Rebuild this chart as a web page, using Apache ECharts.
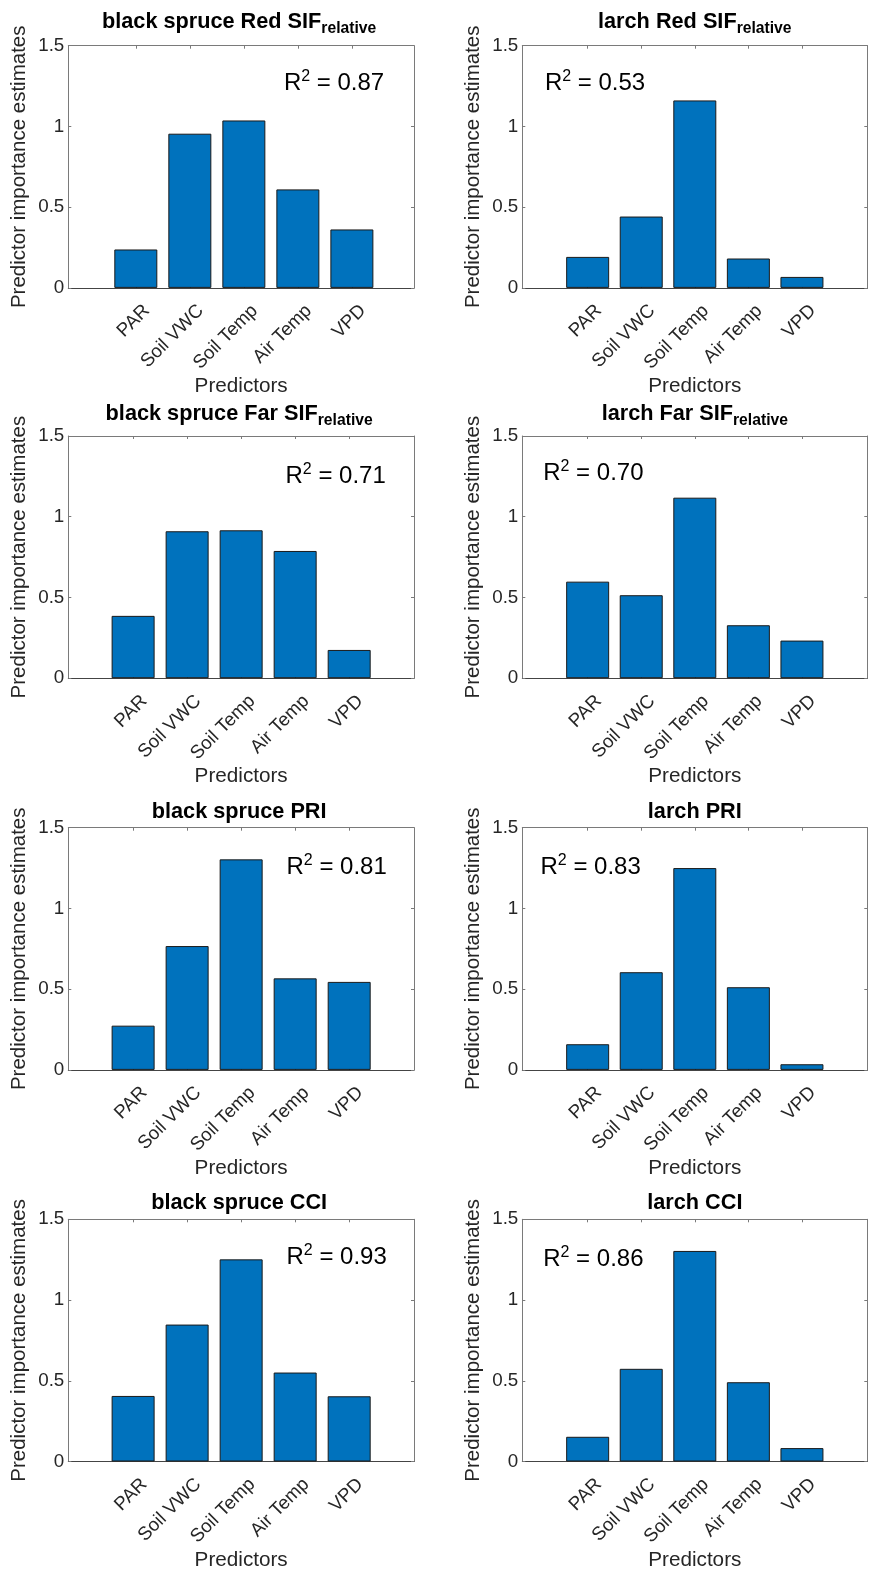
<!DOCTYPE html>
<html>
<head>
<meta charset="utf-8">
<script src="https://cdn.jsdelivr.net/npm/echarts@6/dist/echarts.min.js"></script>
<style>
  html, body { margin: 0; padding: 0; background: #ffffff; }
  #chart { width: 869px; height: 1579px; }
</style>
</head>
<body>
<div id="chart"></div>
<script>
// Predictor importance estimates for each vegetation index model
const predictors = ['PAR', 'Soil VWC', 'Soil Temp', 'Air Temp', 'VPD'];
const yTicks = [0, 0.5, 1, 1.5];

const spruceRedSIF = [0.238, 0.955, 1.037, 0.610, 0.362];
const larchRedSIF  = [0.192, 0.442, 1.161, 0.182, 0.068];
const spruceFarSIF = [0.386, 0.910, 0.916, 0.788, 0.175];
const larchFarSIF  = [0.598, 0.514, 1.118, 0.328, 0.233];
const sprucePRI    = [0.274, 0.767, 1.304, 0.567, 0.545];
const larchPRI     = [0.159, 0.605, 1.250, 0.512, 0.035];
const spruceCCI    = [0.406, 0.848, 1.252, 0.551, 0.404];
const larchCCI     = [0.153, 0.574, 1.304, 0.491, 0.083];

const titleMain = ['black spruce Red SIF', 'larch Red SIF', 'black spruce Far SIF', 'larch Far SIF',
                   'black spruce PRI', 'larch PRI', 'black spruce CCI', 'larch CCI'];
const titleSub  = ['relative', 'relative', 'relative', 'relative', '', '', '', ''];
const r2Values  = ['0.87', '0.53', '0.71', '0.70', '0.81', '0.83', '0.93', '0.86'];

const panelValues = [spruceRedSIF, larchRedSIF, spruceFarSIF, larchFarSIF,
                     sprucePRI, larchPRI, spruceCCI, larchCCI];

// ---- layout (pixels) ----
const colLeft = [68.3, 522.3];
const colWidth = [345.7, 345];
const titleShift = [-2, 0];
const rowTop = [45.7, 436, 827.7, 1219.3];
const rowHeight = 242.2;
const xRange = [[-0.25, 6.15], [-0.22, 6.22], [-0.2, 6.2], [-0.22, 6.22],
                [-0.2, 6.2], [-0.22, 6.22], [-0.2, 6.2], [-0.22, 6.22]];
const titleY = [22.1, 22.1, 413.8, 413.8, 812.1, 812.1, 1203.1, 1203.1];
const r2Pos = [[283.9, 83.8], [544.9, 83.8], [285.5, 476.1], [543.2, 473.8],
               [286.5, 867.1], [540.5, 867.1], [286.5, 1257.1], [543.2, 1259.4]];

const FONT = 'Liberation Sans, Arial, Helvetica, sans-serif';
const TEXT = '#262626';
const BOX = '#7a7a7a';
const BASE = '#444444';
const BAR = '#0072BD';
const tickPos = predictors.map((_, k) => k + 1);

const grids = [], xAxes = [], yAxes = [], series = [], graphics = [];

panelValues.forEach((vals, i) => {
  const col = i % 2, row = Math.floor(i / 2);
  grids.push({ left: colLeft[col], top: rowTop[row], width: colWidth[col], height: rowHeight,
               containLabel: false });

  // bottom axis: bar positions 1..5 labelled with predictor names
  xAxes.push({
    type: 'value', gridIndex: i, position: 'bottom',
    min: xRange[i][0], max: xRange[i][1],
    axisLine: { show: true, onZero: false, lineStyle: { color: BASE, width: 1 } },
    axisTick: { show: true, inside: true, length: 3, customValues: tickPos,
                lineStyle: { color: BASE, width: 1 } },
    axisLabel: {
      show: true, customValues: tickPos,
      formatter: v => predictors[Math.round(v) - 1],
      rotate: 45, margin: 9, align: 'right', verticalAlign: 'top', padding: [6, 0, 0, 0],
      fontSize: 18.8, color: TEXT, fontFamily: FONT
    },
    splitLine: { show: false },
    name: 'Predictors', nameLocation: 'middle', nameGap: 86,
    nameTextStyle: { fontSize: 20.7, color: TEXT, fontFamily: FONT }
  });
  // top mirror axis (ticks only)
  xAxes.push({
    type: 'value', gridIndex: i, position: 'top',
    min: xRange[i][0], max: xRange[i][1],
    axisLine: { show: true, onZero: false, lineStyle: { color: BOX, width: 1 } },
    axisTick: { show: true, inside: true, length: 3, customValues: tickPos,
                lineStyle: { color: BOX, width: 1 } },
    axisLabel: { show: false },
    splitLine: { show: false }
  });

  yAxes.push({
    type: 'value', gridIndex: i, position: 'left',
    min: 0, max: 1.5, interval: 0.5,
    axisLine: { show: true, onZero: false, lineStyle: { color: BOX, width: 1 } },
    axisTick: { show: true, inside: true, length: 3, customValues: yTicks,
                lineStyle: { color: BOX, width: 1 } },
    axisLabel: { show: true, customValues: yTicks, margin: 4,
                 fontSize: 18.8, color: TEXT, fontFamily: FONT },
    splitLine: { show: false },
    name: 'Predictor importance estimates', nameLocation: 'middle', nameGap: 38, nameRotate: 90,
    nameTextStyle: { fontSize: 20.5, color: TEXT, fontFamily: FONT }
  });
  yAxes.push({
    type: 'value', gridIndex: i, position: 'right',
    min: 0, max: 1.5, interval: 0.5,
    axisLine: { show: true, onZero: false, lineStyle: { color: BOX, width: 1 } },
    axisTick: { show: true, inside: true, length: 3, customValues: yTicks,
                lineStyle: { color: BOX, width: 1 } },
    axisLabel: { show: false },
    splitLine: { show: false }
  });

  series.push({
    type: 'bar', xAxisIndex: 2 * i, yAxisIndex: 2 * i,
    barWidth: 43,
    data: vals.map((v, k) => [k + 1, v]),
    itemStyle: { color: BAR, borderColor: '#1a1a1a', borderWidth: 1 },
    silent: true, z: 1
  });

  // panel title with optional subscript
  const cx = colLeft[col] + colWidth[col] / 2 + titleShift[col];
  const sub = titleSub[i];
  graphics.push({
    type: 'text', x: cx, y: titleY[i], z: 10,
    style: {
      text: sub ? `{m|${titleMain[i]}}{s|${sub}}` : `{m|${titleMain[i]}}`,
      align: 'center', verticalAlign: 'middle',
      rich: {
        m: { fontSize: 21.7, fontWeight: 'bold', fontFamily: FONT, fill: '#000', lineHeight: 30 },
        s: { fontSize: 15.7, fontWeight: 'bold', fontFamily: FONT, fill: '#000', lineHeight: 9.2,
             verticalAlign: 'bottom' }
      }
    }
  });

  // coefficient of determination annotation
  graphics.push({
    type: 'text', x: r2Pos[i][0], y: r2Pos[i][1], z: 10,
    style: {
      text: `{m|R}{p|2}{m| = ${r2Values[i]}}`,
      align: 'left', verticalAlign: 'middle',
      rich: {
        m: { fontSize: 24, fontFamily: FONT, fill: '#000', lineHeight: 30 },
        p: { fontSize: 16, fontFamily: FONT, fill: '#000', lineHeight: 18.4, verticalAlign: 'top' }
      }
    }
  });
});

const chart = echarts.init(document.getElementById('chart'), null, { renderer: 'canvas' });
chart.setOption({
  animation: false,
  backgroundColor: '#ffffff',
  grid: grids,
  xAxis: xAxes,
  yAxis: yAxes,
  series: series,
  graphic: graphics
});
</script>
</body>
</html>
